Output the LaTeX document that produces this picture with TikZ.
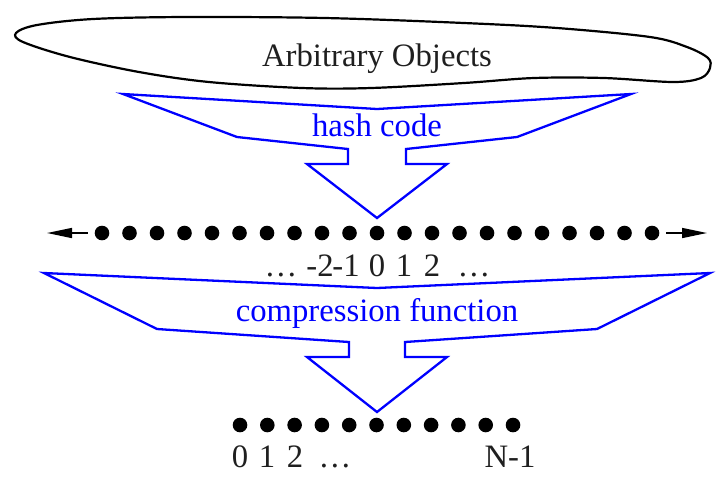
\documentclass[tikz,border=0pt]{standalone}
\usepackage{fontspec}
\setmainfont{Liberation Serif}
\usetikzlibrary{arrows.meta}
\begin{document}
\begin{tikzpicture}[x=0.5pt,y=-0.5pt,
  lbl/.style={font=\fontsize{16.35}{19}\selectfont, inner sep=0, text=black!88, anchor=base},
  blbl/.style={lbl, text=blue},
  blockarrow/.style={draw=blue, line width=1.15pt, line join=miter},
  blob/.style={draw=black, line width=1.1pt},
  dot/.style={circle, fill=black, inner sep=0, minimum size=7.3pt},
  axisarrow/.style={-{Triangle[length=12.5pt,width=5pt]}, line width=0.75pt, shorten <=3.2pt}]
\useasboundingbox (0,0) rectangle (728,484);

% cloud of objects
\draw[blob] plot[smooth cycle, tension=0.55] coordinates {
  (16,33) (37,25) (93,19) (186,17) (325,18) (464,23) (557,28) (650,37)
  (687,47) (708,58) (710,68) (701,78) (673,82) (604,78) (534,78) (464,83)
  (371,88) (302,88) (209,82) (139,72) (70,57) (23,42)};
\node[lbl] (objs) at (377,66) {Arbitrary Objects};

% hash code block arrow
\draw[blockarrow] (123,94) -- (377,109) -- (631,94) -- (517,137) -- (406,149)
  -- (406,164) -- (447,164) -- (377,218) -- (307,164) -- (348,164)
  -- (348,149) -- (237,137) -- cycle;
\node[blbl] (hash) at (377,136) {hash code};

% integer line
\foreach \i in {0,...,20} \node[dot] (a\i) at ({102+27.5*\i},233) {};
\coordinate (lt) at (47,233);
\coordinate (rt) at (707,233);
\draw[axisarrow] (a0) -- (lt);
\draw[axisarrow] (a20) -- (rt);
\node[lbl] (ldots) at (281,276) {\dots};
\node[lbl] (m2) at (320,276) {-2};
\node[lbl] (m1) at (346,276) {-1};
\node[lbl] (z0) at (377,276) {0};
\node[lbl] (p1) at (404,276) {1};
\node[lbl] (p2) at (432,276) {2};
\node[lbl] (rdots) at (474,276) {\dots};

% compression function block arrow
\draw[blockarrow] (44,273) -- (377,288) -- (710,273) -- (597,329) -- (405,342)
  -- (405,357) -- (447,357) -- (377,412) -- (307,357) -- (349,357)
  -- (349,342) -- (157,329) -- cycle;
\node[blbl] (comp) at (377,321) {compression function};

% bucket array
\foreach \i in {0,...,10} \node[dot] (b\i) at ({240+27.3*\i},425) {};
\node[lbl] (q0) at (240,467) {0};
\node[lbl] (q1) at (267,467) {1};
\node[lbl] (q2) at (295,467) {2};
\node[lbl] (qdots) at (335,467) {\dots};
\node[lbl] (qn) at (510,467) {N-1};
\end{tikzpicture}
\end{document}
